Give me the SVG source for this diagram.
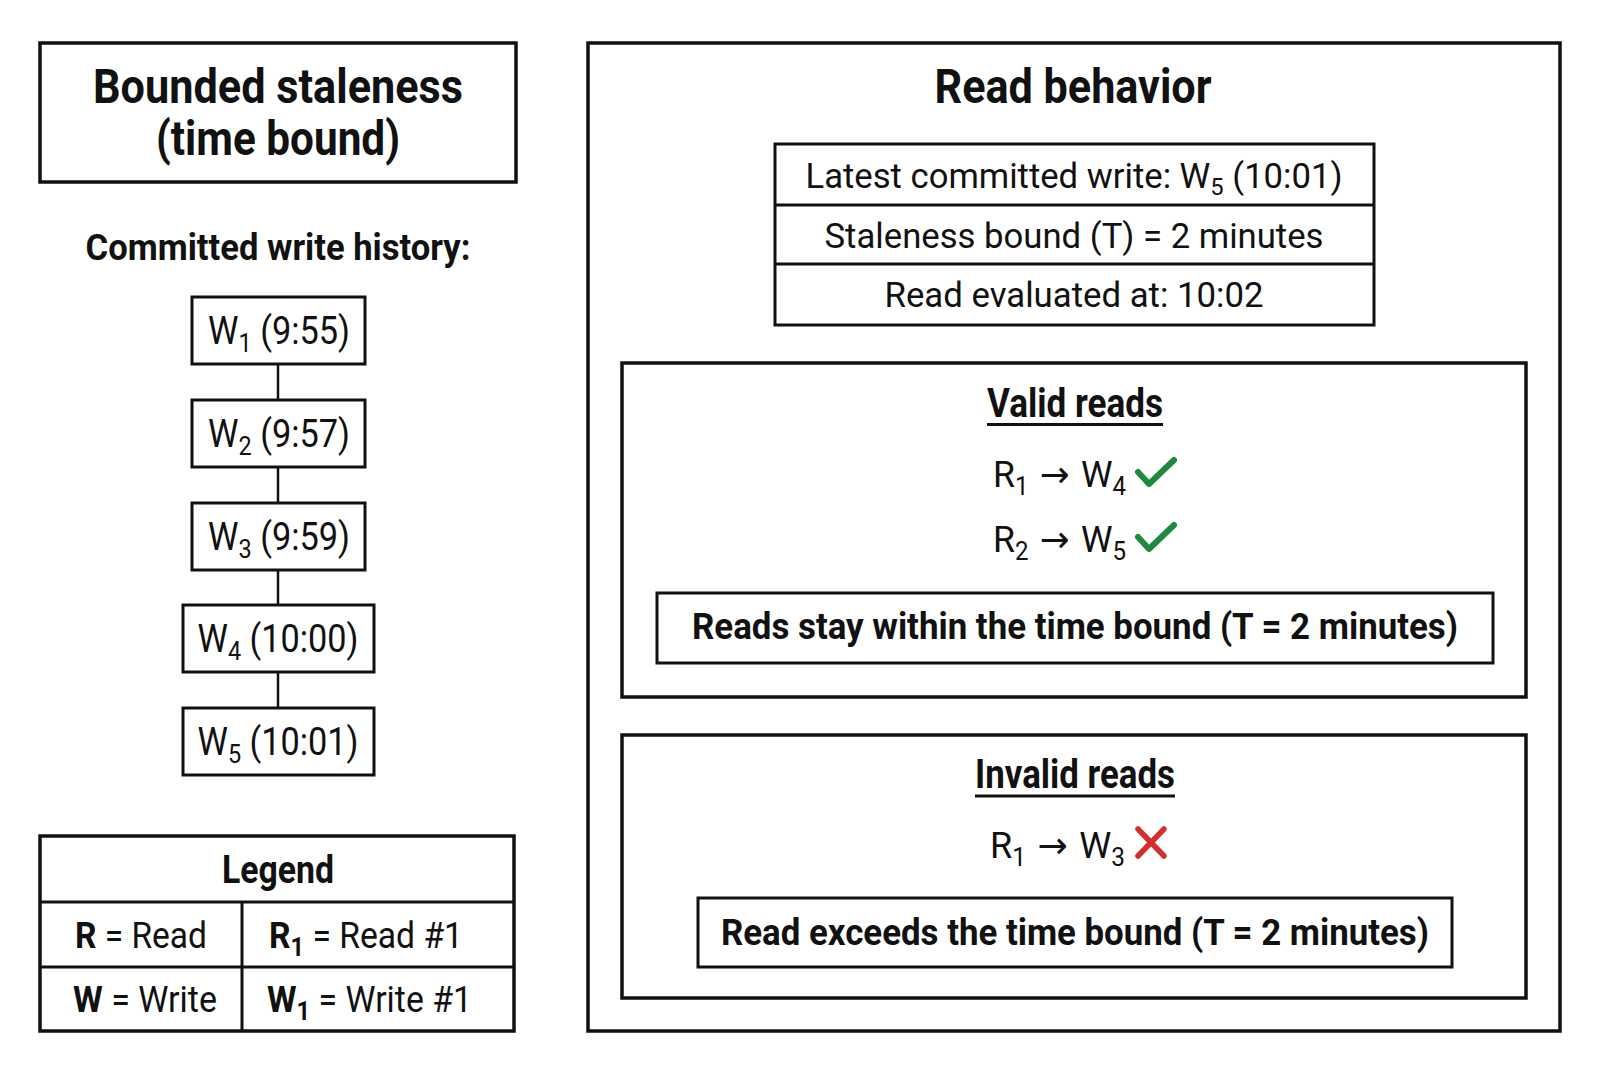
<svg xmlns="http://www.w3.org/2000/svg" width="1600" height="1073" viewBox="0 0 1600 1073">
<style>
.box{fill:#fff;stroke:#111;stroke-width:3.5}
.thin{fill:none;stroke:#111;stroke-width:3}
.t{font-family:Roboto,"Liberation Sans",sans-serif;fill:#111}
.b{font-weight:700}
.arr{font-family:"DejaVu Sans",sans-serif}
.conn{stroke:#111;stroke-width:2.5;fill:none}
.ok{fill:none;stroke:#1e8a3e;stroke-width:6;stroke-linecap:round;stroke-linejoin:round}
.bad{fill:none;stroke:#d32f2f;stroke-width:5.5;stroke-linecap:round}
</style>
<rect width="1600" height="1073" fill="#fff"/>

<g id="title">
<rect class="box" x="40" y="43" width="476" height="139"/>
<text class="t b" x="278" y="103" font-size="48" text-anchor="middle" textLength="370" lengthAdjust="spacingAndGlyphs">Bounded staleness</text>
<text class="t b" x="278" y="155" font-size="48" text-anchor="middle" textLength="244" lengthAdjust="spacingAndGlyphs">(time bound)</text>
</g>

<g id="history-label">
<text class="t b" x="278" y="260" font-size="36" text-anchor="middle" textLength="385" lengthAdjust="spacingAndGlyphs">Committed write history:</text>
</g>

<g id="connectors">
<line class="conn" x1="278" y1="364" x2="278" y2="400"/>
<line class="conn" x1="278" y1="467" x2="278" y2="503"/>
<line class="conn" x1="278" y1="570" x2="278" y2="605"/>
<line class="conn" x1="278" y1="672" x2="278" y2="708"/>
</g>

<g id="w1">
<rect class="thin" x="192" y="297" width="173" height="67" fill="#fff"/>
<text class="t" x="279" y="344" font-size="38" text-anchor="middle" textLength="142" lengthAdjust="spacingAndGlyphs">W<tspan font-size="26" dy="8">1</tspan><tspan dy="-8"> (9:55)</tspan></text>
</g>
<g id="w2">
<rect class="thin" x="192" y="400" width="173" height="67" fill="#fff"/>
<text class="t" x="279" y="447" font-size="38" text-anchor="middle" textLength="142" lengthAdjust="spacingAndGlyphs">W<tspan font-size="26" dy="8">2</tspan><tspan dy="-8"> (9:57)</tspan></text>
</g>
<g id="w3">
<rect class="thin" x="192" y="503" width="173" height="67" fill="#fff"/>
<text class="t" x="279" y="550" font-size="38" text-anchor="middle" textLength="142" lengthAdjust="spacingAndGlyphs">W<tspan font-size="26" dy="8">3</tspan><tspan dy="-8"> (9:59)</tspan></text>
</g>
<g id="w4">
<rect class="thin" x="183" y="605" width="191" height="67" fill="#fff"/>
<text class="t" x="278" y="652" font-size="38" text-anchor="middle" textLength="161" lengthAdjust="spacingAndGlyphs">W<tspan font-size="26" dy="8">4</tspan><tspan dy="-8"> (10:00)</tspan></text>
</g>
<g id="w5">
<rect class="thin" x="183" y="708" width="191" height="67" fill="#fff"/>
<text class="t" x="278" y="755" font-size="38" text-anchor="middle" textLength="161" lengthAdjust="spacingAndGlyphs">W<tspan font-size="26" dy="8">5</tspan><tspan dy="-8"> (10:01)</tspan></text>
</g>

<g id="legend">
<rect class="box" x="40" y="836" width="474" height="195"/>
<line class="thin" x1="40" y1="902" x2="514" y2="902"/>
<line class="thin" x1="40" y1="967" x2="514" y2="967"/>
<line class="thin" x1="242" y1="902" x2="242" y2="1031"/>
<text class="t b" x="278" y="883" font-size="38" text-anchor="middle" textLength="112" lengthAdjust="spacingAndGlyphs">Legend</text>
<text class="t" x="75" y="948" font-size="37" textLength="132" lengthAdjust="spacingAndGlyphs"><tspan class="b">R</tspan> = Read</text>
<text class="t" x="269" y="948" font-size="37" textLength="194" lengthAdjust="spacingAndGlyphs"><tspan class="b">R</tspan><tspan class="b" font-size="26" dy="8">1</tspan><tspan dy="-8"> = Read #1</tspan></text>
<text class="t" x="73" y="1012" font-size="37" textLength="144" lengthAdjust="spacingAndGlyphs"><tspan class="b">W</tspan> = Write</text>
<text class="t" x="267" y="1012" font-size="37" textLength="205" lengthAdjust="spacingAndGlyphs"><tspan class="b">W</tspan><tspan class="b" font-size="26" dy="8">1</tspan><tspan dy="-8"> = Write #1</tspan></text>
</g>

<g id="read-behavior">
<rect class="box" x="588" y="43" width="972" height="988"/>
<text class="t b" x="1073" y="103" font-size="48" text-anchor="middle" textLength="277" lengthAdjust="spacingAndGlyphs">Read behavior</text>
</g>

<g id="info-table">
<rect class="thin" x="775" y="144" width="599" height="181" fill="#fff"/>
<line class="thin" x1="775" y1="205" x2="1374" y2="205"/>
<line class="thin" x1="775" y1="264" x2="1374" y2="264"/>
<text class="t" x="1074" y="188" font-size="35" text-anchor="middle" textLength="537" lengthAdjust="spacingAndGlyphs">Latest committed write: W<tspan font-size="24" dy="7">5</tspan><tspan dy="-7"> (10:01)</tspan></text>
<text class="t" x="1074" y="248" font-size="35" text-anchor="middle" textLength="499" lengthAdjust="spacingAndGlyphs">Staleness bound (T) = 2 minutes</text>
<text class="t" x="1074" y="307" font-size="35" text-anchor="middle" textLength="379" lengthAdjust="spacingAndGlyphs">Read evaluated at: 10:02</text>
</g>

<g id="valid-reads">
<rect class="box" x="622" y="363" width="904" height="334"/>
<text class="t b" x="1075" y="417" font-size="40" text-anchor="middle" textLength="176" lengthAdjust="spacingAndGlyphs">Valid reads</text>
<line x1="987" y1="424.5" x2="1163" y2="424.5" stroke="#111" stroke-width="3"/>
<text class="t" x="993" y="487" font-size="37" textLength="133" lengthAdjust="spacingAndGlyphs">R<tspan font-size="25" dy="8">1</tspan><tspan class="arr" dy="-8"> → </tspan><tspan>W</tspan><tspan font-size="25" dy="8">4</tspan></text>
<polyline class="ok" points="1138,472 1149,484 1174,460"/>
<text class="t" x="993" y="552" font-size="37" textLength="133" lengthAdjust="spacingAndGlyphs">R<tspan font-size="25" dy="8">2</tspan><tspan class="arr" dy="-8"> → </tspan><tspan>W</tspan><tspan font-size="25" dy="8">5</tspan></text>
<polyline class="ok" points="1138,537 1149,549 1174,525"/>
<rect class="thin" x="657" y="593" width="836" height="70"/>
<text class="t b" x="1075" y="639" font-size="37" text-anchor="middle" textLength="766" lengthAdjust="spacingAndGlyphs">Reads stay within the time bound (T = 2 minutes)</text>
</g>

<g id="invalid-reads">
<rect class="box" x="622" y="735" width="904" height="263"/>
<text class="t b" x="1075" y="788" font-size="40" text-anchor="middle" textLength="200" lengthAdjust="spacingAndGlyphs">Invalid reads</text>
<line x1="975" y1="796" x2="1175" y2="796" stroke="#111" stroke-width="3"/>
<text class="t" x="990" y="858" font-size="37" textLength="135" lengthAdjust="spacingAndGlyphs">R<tspan font-size="25" dy="8">1</tspan><tspan class="arr" dy="-8"> → </tspan><tspan>W</tspan><tspan font-size="25" dy="8">3</tspan></text>
<path class="bad" d="M1138,829 L1164,856 M1164,829 L1138,856"/>
<rect class="thin" x="698" y="898" width="754" height="69"/>
<text class="t b" x="1075" y="945" font-size="37" text-anchor="middle" textLength="708" lengthAdjust="spacingAndGlyphs">Read exceeds the time bound (T = 2 minutes)</text>
</g>
</svg>
